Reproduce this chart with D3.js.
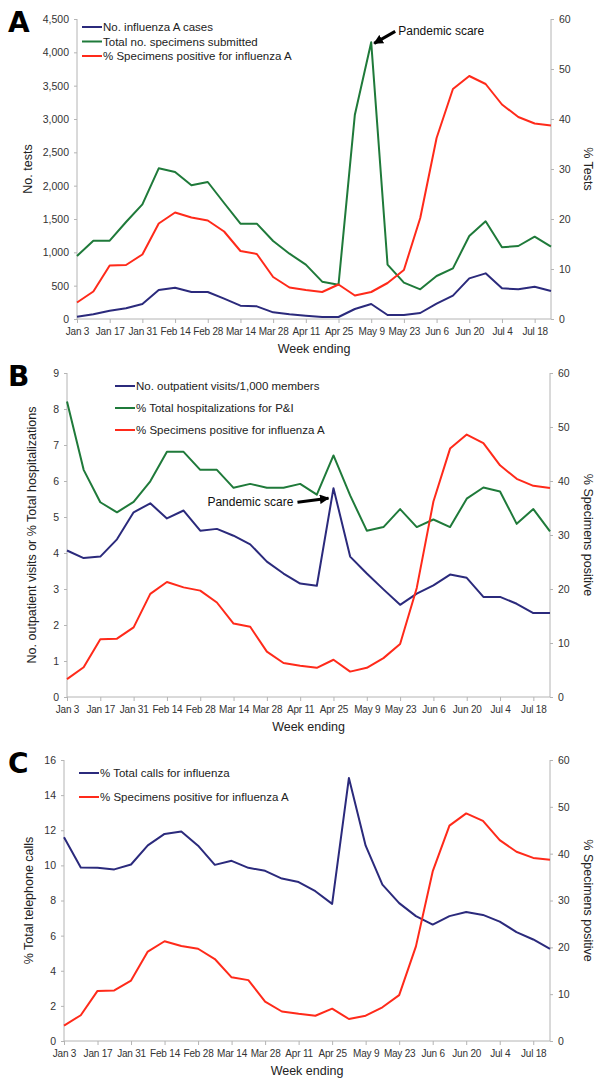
<!DOCTYPE html>
<html>
<head>
<meta charset="utf-8">
<script src="https://cdn.jsdelivr.net/npm/d3@7"></script>
<style>
  body { margin: 0; background: #fff; }
  svg { display: block; font-family: "Liberation Sans", Arial, sans-serif; }
</style>
</head>
<body>
<svg id="chart" width="600" height="1082"></svg>
<script>
const weeks = ["Jan 3", "Jan 10", "Jan 17", "Jan 24", "Jan 31", "Feb 7", "Feb 14", "Feb 21", "Feb 28",
  "Mar 7", "Mar 14", "Mar 21", "Mar 28", "Apr 4", "Apr 11", "Apr 18", "Apr 25", "May 2", "May 9",
  "May 16", "May 23", "May 30", "Jun 6", "Jun 13", "Jun 20", "Jun 27", "Jul 4", "Jul 11", "Jul 18", "Jul 25"];
const weekTicks = weeks.filter((d, i) => i % 2 === 0);

// panel A
const fluCases = [35, 70, 125, 160, 225, 435, 470, 405, 405, 305, 200, 190, 100, 70, 50, 30, 30, 150, 225,
  60, 60, 90, 230, 350, 610, 685, 460, 445, 485, 420];
const specimens = [945, 1175, 1175, 1455, 1720, 2260, 2205, 2005, 2055, 1740, 1430, 1430, 1170, 980, 815,
  560, 515, 3065, 4150, 815, 545, 445, 645, 760, 1245, 1465, 1075, 1095, 1235, 1085];
// same series in all three panels
const pctPositive = [3.3, 5.5, 10.7, 10.8, 12.9, 19.1, 21.3, 20.3, 19.7, 17.5, 13.6, 13.0, 8.4, 6.3, 5.8,
  5.4, 6.9, 4.7, 5.4, 7.2, 9.8, 20.2, 36.2, 46.0, 48.6, 47.0, 42.9, 40.4, 39.1, 38.7];

// panel B
const outpatient = [4.07, 3.86, 3.90, 4.38, 5.13, 5.38, 4.96, 5.18, 4.62, 4.67, 4.48, 4.24, 3.76, 3.43, 3.15,
  3.09, 5.8, 3.90, 3.43, 2.99, 2.56, 2.87, 3.10, 3.40, 3.31, 2.78, 2.78, 2.59, 2.33, 2.33];
const hospPI = [8.21, 6.31, 5.41, 5.13, 5.42, 5.99, 6.81, 6.81, 6.31, 6.31, 5.81, 5.92, 5.81, 5.81, 5.92,
  5.62, 6.71, 5.6, 4.62, 4.72, 5.22, 4.72, 4.93, 4.72, 5.51, 5.82, 5.71, 4.81, 5.22, 4.6];

// panel C
const callsFlu = [11.6, 9.88, 9.86, 9.77, 10.05, 11.14, 11.79, 11.93, 11.12, 10.03, 10.26, 9.86, 9.69, 9.25,
  9.05, 8.53, 7.81, 14.97, 11.12, 8.9, 7.85, 7.11, 6.63, 7.11, 7.34, 7.18, 6.80, 6.20, 5.78, 5.25];

const BLUE = "#2b2a7c", GREEN = "#1f7a3a", RED = "#ff2a1a";
const svg = d3.select("#chart");

svg.append("defs").append("marker")
  .attr("id", "arrow")
  .attr("viewBox", "0 0 10 10")
  .attr("refX", 9).attr("refY", 5)
  .attr("markerWidth", 3.2).attr("markerHeight", 3.2)
  .attr("orient", "auto")
  .append("path").attr("d", "M0,0 L10,5 L0,10 z").attr("fill", "#000");

function drawPanel(p) {
  const x = d3.scalePoint().domain(weeks).range([p.left, p.right]);
  const yL = d3.scaleLinear().domain([0, p.leftMax]).range([p.bottom, p.top]);
  const yR = d3.scaleLinear().domain([0, 60]).range([p.bottom, p.top]);
  const g = svg.append("g");

  g.append("text").attr("x", 8).attr("y", p.top + 13)
    .attr("font-family", "'DejaVu Sans', sans-serif").attr("font-weight", 900)
    .attr("font-size", 28).attr("fill", "#000").text(p.letter);

  const axL = g.append("g").attr("transform", `translate(${p.left},0)`)
    .call(d3.axisLeft(yL).tickValues(d3.range(0, p.leftMax + 0.001, p.leftStep))
      .tickFormat(p.leftFmt).tickSize(3).tickPadding(5));
  const axR = g.append("g").attr("transform", `translate(${p.right},0)`)
    .call(d3.axisRight(yR).tickValues(d3.range(0, 61, 10)).tickSize(3).tickPadding(5));
  const axX = g.append("g").attr("transform", `translate(0,${p.bottom})`)
    .call(d3.axisBottom(x).tickValues(weekTicks).tickSize(4).tickPadding(5));
  [axL, axR, axX].forEach(a => {
    a.selectAll("path,line").attr("stroke", "#b4b4b4");
    a.selectAll("text").attr("fill", "#333").attr("font-size", 10.5)
      .attr("font-family", "'Liberation Sans', Arial, sans-serif");
    a.select(".domain").attr("d", null);
  });
  axX.selectAll("text").attr("font-size", 10).attr("letter-spacing", -0.2);
  axL.append("line").attr("y1", p.top).attr("y2", p.bottom).attr("stroke", "#b4b4b4");
  axR.append("line").attr("y1", p.top).attr("y2", p.bottom).attr("stroke", "#b4b4b4");
  axX.append("line").attr("x1", p.left).attr("x2", p.right).attr("stroke", "#b4b4b4");

  const mid = (p.top + p.bottom) / 2;
  g.append("text").attr("transform", `translate(${p.leftTitleX},${mid}) rotate(-90)`)
    .attr("text-anchor", "middle").attr("font-size", 12.5).attr("fill", "#222").text(p.leftTitle);
  g.append("text").attr("transform", `translate(${p.rightTitleX},${mid}) rotate(90)`)
    .attr("text-anchor", "middle").attr("font-size", 12.5).attr("fill", "#222").text(p.rightTitle);
  g.append("text").attr("x", (p.left + p.right) / 2).attr("y", p.bottom + 34)
    .attr("text-anchor", "middle").attr("font-size", 12.5).attr("fill", "#222").text("Week ending");

  p.series.forEach(s => {
    const y = s.axis === "right" ? yR : yL;
    g.append("path").datum(s.values)
      .attr("fill", "none").attr("stroke", s.color).attr("stroke-width", 2)
      .attr("stroke-linejoin", "round")
      .attr("d", d3.line().x((d, i) => x(weeks[i])).y(d => y(d)));
  });

  const leg = g.append("g");
  p.series.forEach((s, i) => {
    const ly = p.legY + i * p.legGap;
    leg.append("line").attr("x1", p.legX).attr("x2", p.legX + 20).attr("y1", ly).attr("y2", ly)
      .attr("stroke", s.color).attr("stroke-width", 2);
    leg.append("text").attr("x", p.legX + 21).attr("y", ly + 4)
      .attr("font-size", 11.5).attr("fill", "#222").text(s.name);
  });

  if (p.note) {
    const n = p.note;
    const s = p.series[n.series];
    const y = s.axis === "right" ? yR : yL;
    const tx = x(weeks[n.week]), ty = y(s.values[n.week]);
    g.append("line").attr("x1", tx + n.dx).attr("y1", ty + n.dy)
      .attr("x2", tx + n.tipDx).attr("y2", ty + n.tipDy)
      .attr("stroke", "#000").attr("stroke-width", 3).attr("marker-end", "url(#arrow)");
    g.append("text").attr("x", tx + n.textDx).attr("y", ty + n.textDy)
      .attr("text-anchor", n.anchor).attr("font-size", 12).attr("fill", "#111").text(n.text);
  }
}

drawPanel({
  letter: "A", left: 77, right: 551, top: 19, bottom: 319,
  leftMax: 4500, leftStep: 500, leftFmt: d3.format(","),
  leftTitle: "No. tests", leftTitleX: 32, rightTitle: "% Tests", rightTitleX: 584,
  legX: 82, legY: 27, legGap: 14.5,
  series: [
    { name: "No. influenza A cases", values: fluCases, color: BLUE, axis: "left" },
    { name: "Total no. specimens submitted", values: specimens, color: GREEN, axis: "left" },
    { name: "% Specimens positive for influenza A", values: pctPositive, color: RED, axis: "right" }
  ],
  note: { series: 1, week: 18, dx: 24, dy: -11, tipDx: 3, tipDy: 1, textDx: 27, textDy: -7,
    anchor: "start", text: "Pandemic scare" }
});

drawPanel({
  letter: "B", left: 67, right: 550, top: 373, bottom: 697,
  leftMax: 9, leftStep: 1, leftFmt: d3.format("d"),
  leftTitle: "No. outpatient visits or % Total hospitalizations", leftTitleX: 36,
  rightTitle: "% Specimens positive", rightTitleX: 584,
  legX: 115, legY: 386, legGap: 22,
  series: [
    { name: "No. outpatient visits/1,000 members", values: outpatient, color: BLUE, axis: "left" },
    { name: "% Total hospitalizations for P&I", values: hospPI, color: GREEN, axis: "left" },
    { name: "% Specimens positive for influenza A", values: pctPositive, color: RED, axis: "right" }
  ],
  note: { series: 0, week: 16, dx: -36, dy: 14, tipDx: -5, tipDy: 10, textDx: -40, textDy: 18,
    anchor: "end", text: "Pandemic scare" }
});

drawPanel({
  letter: "C", left: 64, right: 550, top: 760, bottom: 1041,
  leftMax: 16, leftStep: 2, leftFmt: d3.format("d"),
  leftTitle: "% Total telephone calls", leftTitleX: 33,
  rightTitle: "% Specimens positive", rightTitleX: 584,
  legX: 79, legY: 773, legGap: 24,
  series: [
    { name: "% Total calls for influenza", values: callsFlu, color: BLUE, axis: "left" },
    { name: "% Specimens positive for influenza A", values: pctPositive, color: RED, axis: "right" }
  ]
});
</script>
</body>
</html>
